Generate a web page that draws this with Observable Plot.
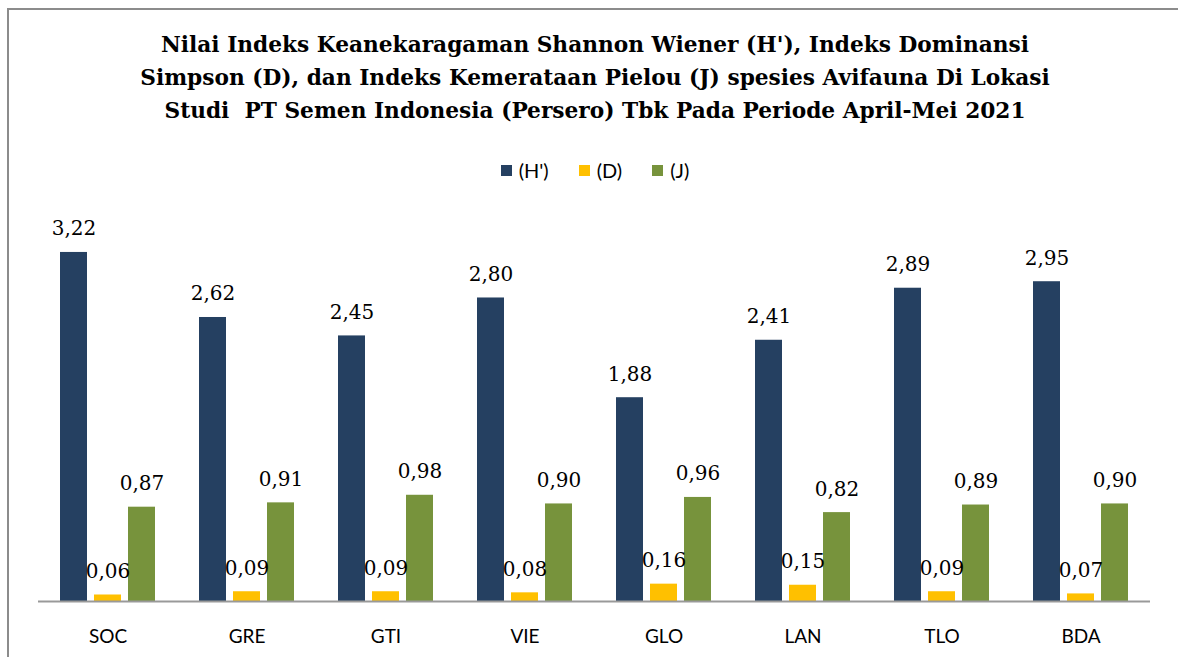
<!DOCTYPE html>
<html>
<head>
<meta charset="utf-8">
<script src="https://cdn.jsdelivr.net/npm/d3@7"></script>
<script src="https://cdn.jsdelivr.net/npm/@observablehq/plot@0.6"></script>
<style>
  html, body { margin: 0; padding: 0; background: #fff; overflow: hidden; }
  #wrap { position: relative; width: 1178px; height: 657px; overflow: hidden; background: #fff; }
  #frame { position: absolute; left: 7px; top: 8px; width: 1169px; height: 647px;
           border-top: 2px solid #8c8c8c; border-left: 2px solid #8c8c8c; }
  #title { position: absolute; left: 12px; width: 1166px; top: 28px; text-align: center;
           font-family: "DejaVu Serif", serif; font-weight: bold; font-size: 21.7px;
           line-height: 33px; color: #000; white-space: pre; }
  #legend { position: absolute; left: 0; width: 1178px; top: 157px; height: 26px;
            display: flex; justify-content: center; align-items: center;
            font-family: "Lato", sans-serif; font-size: 20px; color: #000; padding-left: 12px; box-sizing: border-box; }
  .item { display: flex; align-items: center; margin: 0 15px; }
  .sw { width: 11px; height: 11px; margin-right: 7px; }
  #chart { position: absolute; left: 0; top: 190px; }
</style>
</head>
<body>
<div id="wrap">
  <div id="frame"></div>
  <div id="title"></div>
  <div id="legend"></div>
  <div id="chart"></div>
</div>
<script>
const titleLines = [
  "Nilai Indeks Keanekaragaman Shannon Wiener (H'), Indeks Dominansi",
  "Simpson (D), dan Indeks Kemerataan Pielou (J) spesies Avifauna Di Lokasi",
  "Studi  PT Semen Indonesia (Persero) Tbk Pada Periode April-Mei 2021"
];
const sites = ["SOC", "GRE", "GTI", "VIE", "GLO", "LAN", "TLO", "BDA"];
const series = ["(H')", "(D)", "(J)"];
const colors = ["#254061", "#FFC000", "#77933C"];
const valuesH = [3.22, 2.62, 2.45, 2.80, 1.88, 2.41, 2.89, 2.95];
const valuesD = [0.06, 0.09, 0.09, 0.08, 0.16, 0.15, 0.09, 0.07];
const valuesJ = [0.87, 0.91, 0.98, 0.90, 0.96, 0.82, 0.89, 0.90];

const rows = [];
sites.forEach((s, i) => {
  rows.push({site: s, series: series[0], value: valuesH[i]});
  rows.push({site: s, series: series[1], value: valuesD[i]});
  rows.push({site: s, series: series[2], value: valuesJ[i]});
});

document.getElementById("title").textContent = titleLines.join("\n");

const legend = d3.select("#legend");
series.forEach((s, i) => {
  const it = legend.append("div").attr("class", "item");
  it.append("div").attr("class", "sw").style("background", colors[i]);
  it.append("span").text(s);
});

const fmt = d => d.toFixed(2).replace(".", ",");

const plot = Plot.plot({
  width: 1178,
  height: 467,
  marginLeft: 38,
  marginRight: 28,
  marginTop: 31.6,
  marginBottom: 56,
  facet: {data: rows, x: "site"},
  fx: {domain: sites, padding: 0, label: null, tickSize: 0, tickPadding: 28, axis: "bottom"},
  x: {domain: series, axis: null, paddingInner: 0.2, paddingOuter: 0.586},
  y: {domain: [0, 3.5], axis: null},
  color: {domain: series, range: colors},
  style: {fontFamily: "Lato, sans-serif", fontSize: "19px", color: "#000", background: "transparent"},
  marks: [
    Plot.barY(rows, {x: "series", y: "value", fill: "series"}),
    Plot.ruleY([0], {stroke: "#999", strokeWidth: 2}),
    Plot.text(rows, {x: "series", y: "value", text: d => fmt(d.value), lineAnchor: "bottom", dy: -17,
      fontFamily: "DejaVu Serif, serif", fontSize: 20, fill: "#000"})
  ]
});
document.getElementById("chart").appendChild(plot);
</script>
</body>
</html>
